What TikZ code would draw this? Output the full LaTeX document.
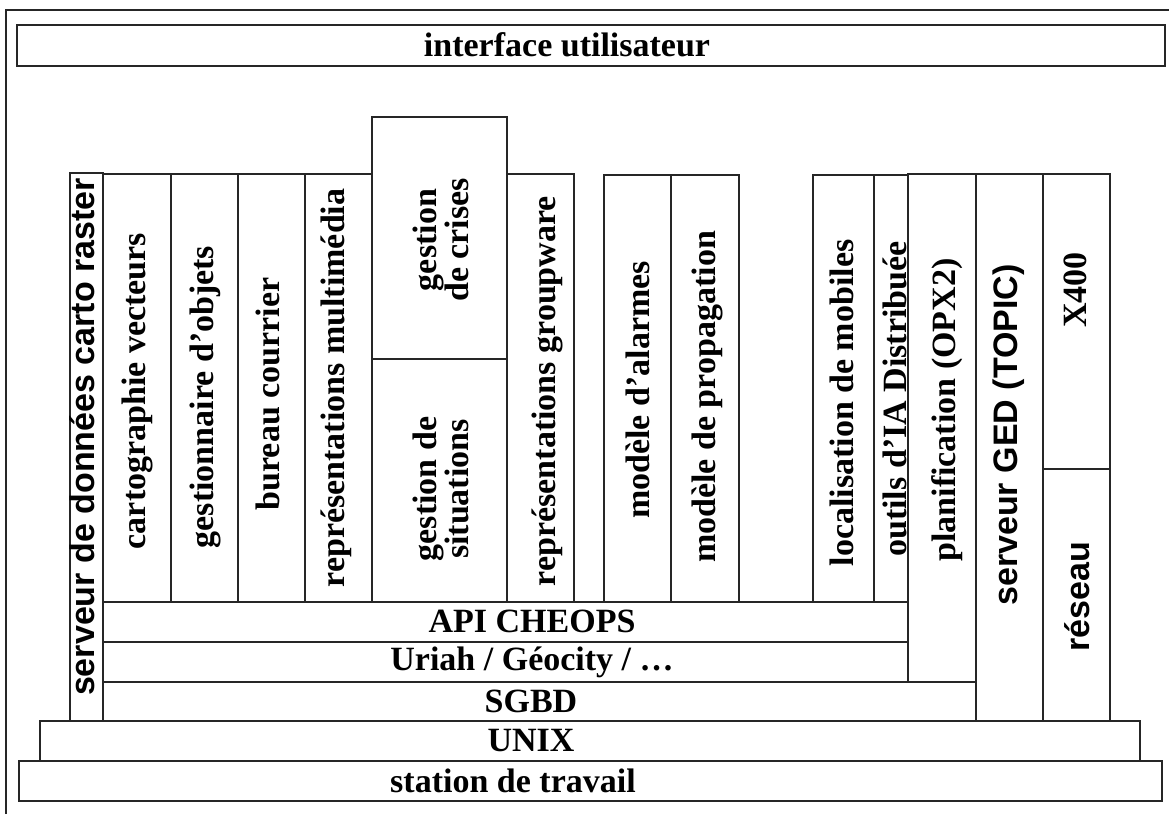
\documentclass[tikz,border=0pt]{standalone}
\usepackage{fontspec}
\setmainfont{Liberation Serif}
\newfontfamily\sansbf{Liberation Sans}
\newcommand\bx[5]{\node[box,anchor=north west,minimum width={#4-#2},minimum height={#5-#3}] (#1) at (#2,#3) {};}
\begin{document}
\begin{tikzpicture}[x=1pt,y=-1pt,
  box/.style={draw=black!85, line width=1.3pt, rectangle, inner sep=0pt, outer sep=0pt},
  frame/.style={draw=black!85, line width=1.3pt},
  lab/.style={font=\fontsize{34}{30}\selectfont\bfseries, inner sep=0pt, align=center},
  vlab/.style={lab, rotate=90},
  svlab/.style={font=\fontsize{34}{30}\selectfont\sansbf\bfseries, inner sep=0pt, rotate=90},
]
\useasboundingbox (0,0) rectangle (1169,814);
\coordinate (fbl) at (6,814);
\coordinate (ftl) at (6,10);
\coordinate (ftr) at (1169,10);
\draw[frame] (fbl) -- (ftl) -- (ftr);

% boxes
\bx{ui}{17}{25}{1165}{66}
\bx{srv}{70}{173}{103}{721}
\bx{carto}{103}{174}{171}{602}
\bx{gest}{171}{174}{238}{602}
\bx{bureau}{238}{174}{305}{602}
\bx{multi}{305}{174}{372}{602}
\bx{crises}{372}{117}{507}{359}
\bx{situ}{372}{359}{507}{602}
\bx{grp}{507}{174}{574}{602}
\bx{alarm}{604}{175}{671}{602}
\bx{propag}{671}{175}{739}{602}
\bx{loc}{813}{175}{874}{602}
\bx{outils}{874}{175}{908}{602}
\bx{plan}{908}{174}{976}{682}
\bx{ged}{976}{174}{1043}{721}
\bx{xfour}{1043}{174}{1110}{469}
\bx{reseau}{1043}{469}{1110}{721}
\bx{api}{103}{602}{908}{642}
\bx{uriah}{103}{642}{908}{682}
\bx{sgbd}{103}{682}{976}{721}
\bx{unix}{40}{721}{1140}{761}
\bx{station}{19}{761}{1162}{801}

% labels
\node[lab] (ui-t) at (567,45) {interface utilisateur};
\node[svlab] (srv-t) at (82,437) {serveur de données carto raster};
\node[vlab] (carto-t) at (137,391) {cartographie vecteurs};
\node[vlab] (gest-t) at (205,397) {gestionnaire d'objets};
\node[vlab] (bureau-t) at (268,394) {bureau courrier};
\node[vlab] (multi-t) at (336,388) {représentations multimédia};
\node[vlab] (crises-t) at (441,240) {gestion\\de crises};
\node[vlab] (situ-t) at (441,489) {gestion de\\situations};
\node[vlab] (grp-t) at (547,391) {représentations groupware};
\node[vlab] (alarm-t) at (638,390) {modèle d'alarmes};
\node[vlab] (propag-t) at (707,397) {modèle de propagation};
\node[vlab] (loc-t) at (842,403) {localisation de mobiles};
\node[vlab] (outils-t) at (895,399) {outils d'IA Distribuée};
\node[vlab] (plan-t) at (947,410) {planification (OPX2)};
\node[svlab] (ged-t) at (1009,435) {serveur GED (TOPIC)};
\node[vlab] (xfour-t) at (1075,290) {X400};
\node[svlab] (reseau-t) at (1077,597) {réseau};
\node[lab] (api-t) at (532,621) {API CHEOPS};
\node[lab] (uriah-t) at (532,662) {Uriah / Géocity / …};
\node[lab] (sgbd-t) at (531,701) {SGBD};
\node[lab] (unix-t) at (531,741) {UNIX};
\node[lab] (station-t) at (513,781) {station de travail};
\end{tikzpicture}
\end{document}
